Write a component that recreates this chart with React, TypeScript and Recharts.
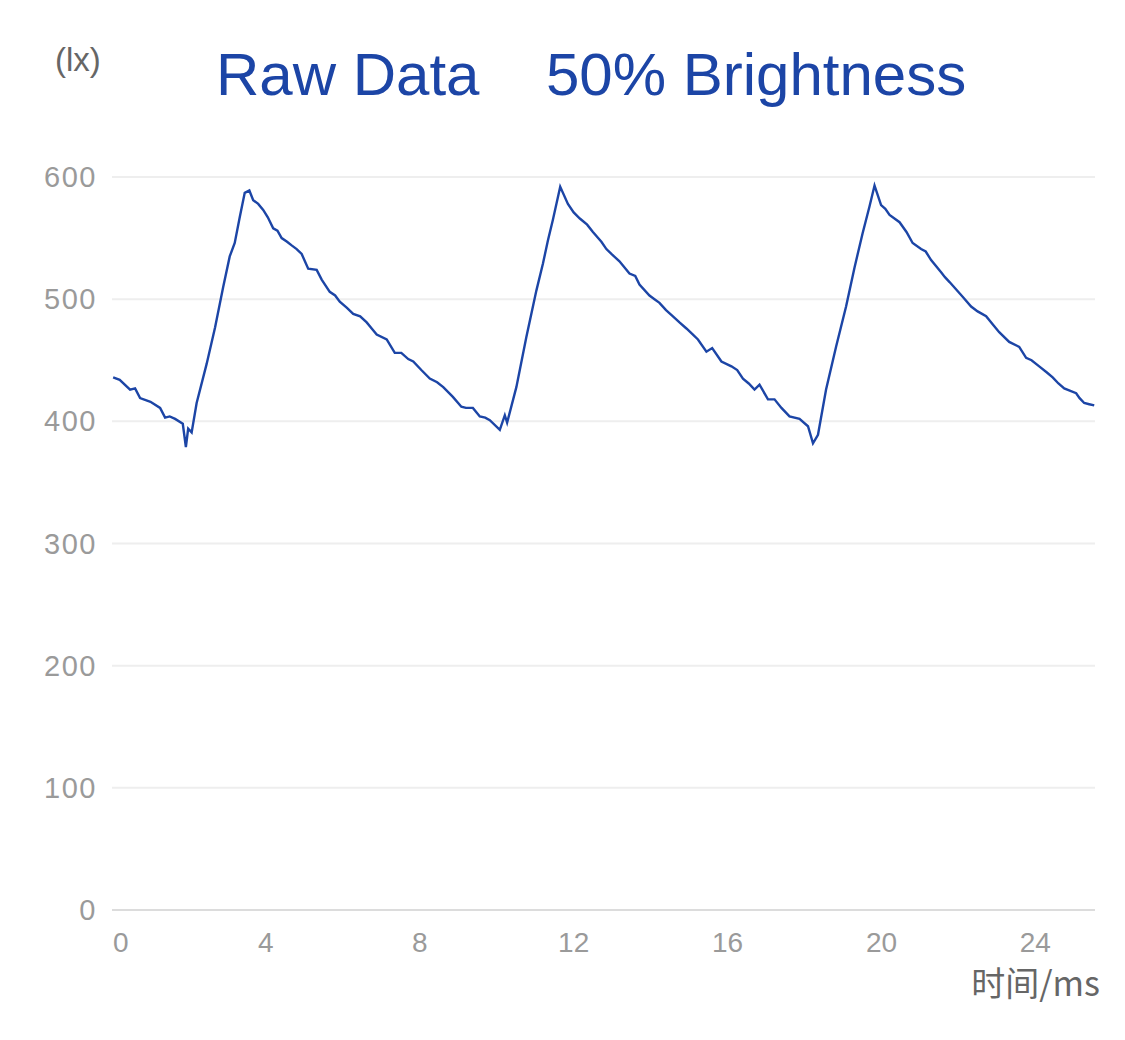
import { LineChart, Line, XAxis, YAxis, CartesianGrid } from "recharts";

// time (ms) and illuminance (lx)
const timeMs = [
  0.03, 0.2, 0.47, 0.6, 0.73, 1.0, 1.25, 1.38, 1.5, 1.64, 1.84, 1.92, 1.98,
  2.07, 2.2, 2.46, 2.68, 2.89, 3.06, 3.19, 3.32, 3.45, 3.57, 3.67, 3.8, 3.93,
  4.05, 4.19, 4.3, 4.41, 4.55, 4.67, 4.8, 4.93, 5.1, 5.32, 5.45, 5.66, 5.8,
  5.92, 6.1, 6.27, 6.45, 6.62, 6.75, 6.88, 7.14, 7.35, 7.52, 7.7, 7.83, 8.04,
  8.26, 8.45, 8.61, 8.86, 9.08, 9.2, 9.38, 9.56, 9.7, 9.82, 10.08, 10.21, 10.27,
  10.51, 10.77, 11.03, 11.2, 11.33, 11.46, 11.65, 11.85, 12.0, 12.16, 12.35,
  12.5, 12.72, 12.85, 12.98, 13.19, 13.45, 13.6, 13.71, 13.97, 14.1, 14.23,
  14.4, 14.58, 14.75, 14.93, 15.1, 15.23, 15.45, 15.6, 15.84, 16.1, 16.25, 16.4,
  16.55, 16.7, 16.83, 17.05, 17.22, 17.4, 17.61, 17.87, 18.09, 18.22, 18.35,
  18.56, 18.82, 19.08, 19.3, 19.51, 19.69, 19.82, 19.99, 20.1, 20.21, 20.47,
  20.65, 20.81, 21.03, 21.15, 21.29, 21.55, 21.65, 21.77, 22.11, 22.33, 22.5,
  22.72, 22.9, 23.06, 23.32, 23.58, 23.76, 23.9, 24.1, 24.3, 24.45, 24.6, 24.75,
  25.06, 25.15, 25.27, 25.4, 25.53,
];
const lux = [
  436, 434, 426, 427, 419, 416, 411, 403, 404, 402, 398, 379, 394, 391, 415,
  447, 477, 510, 535, 546, 567, 587, 589, 581, 578, 573, 567, 558, 556, 550,
  547, 544, 541, 537, 525, 524, 516, 506, 503, 498, 493, 488, 486, 481, 476,
  471, 467, 456, 456, 451, 449, 442, 435, 432, 428, 420, 412, 411, 411, 404,
  403, 401, 393, 405, 399, 428, 469, 507, 529, 548, 565, 592, 578, 571, 566,
  561, 555, 547, 541, 537, 531, 521, 519, 512, 503, 500, 497, 491, 486, 481,
  476, 471, 467, 457, 460, 449, 445, 442, 435, 431, 426, 430, 418, 418, 411,
  404, 402, 396, 382, 389, 426, 461, 494, 526, 554, 576, 593, 577, 574, 569,
  563, 555, 546, 541, 539, 532, 522, 518, 514, 502, 494, 490, 486, 479, 473,
  465, 461, 452, 450, 445, 440, 436, 431, 427, 423, 419, 415, 414, 413,
];
const yTicks = [0, 100, 200, 300, 400, 500, 600];
const xTicks = [0, 4, 8, 12, 16, 20, 24];

const data = timeMs.map((t, i) => ({ t, lx: lux[i] }));

const XTick = (props: any) => {
  const { x, y, payload } = props;
  const first = payload.value === 0;
  return (
    <text
      x={first ? x + 1 : x}
      y={y + 34}
      textAnchor={first ? "start" : "middle"}
      fill="#9a9a9a"
      fontSize={28}
      fontFamily="Liberation Sans, Arial, sans-serif"
    >
      {payload.value}
    </text>
  );
};

const YTick = (props: any) => {
  const { x, y, payload } = props;
  return (
    <text
      x={x - 7}
      y={y + 10}
      textAnchor="end"
      fill="#9a9a9a"
      fontSize={29}
      letterSpacing={1.5}
      fontFamily="Liberation Sans, Arial, sans-serif"
    >
      {payload.value}
    </text>
  );
};

const App = () => {
  return (
    <div
      style={{
        position: "absolute",
        left: 0,
        top: 0,
        width: 1125,
        height: 1040,
        background: "#fff",
        fontFamily: "Liberation Sans, Arial, sans-serif",
      }}
    >
      <div style={{ position: "absolute", left: 55, top: 41, fontSize: 33, color: "#666" }}>
        (lx)
      </div>
      <div style={{ position: "absolute", left: 216, top: 40, fontSize: 60, color: "#1c45a6" }}>
        Raw Data
      </div>
      <div style={{ position: "absolute", left: 546, top: 40, fontSize: 60, color: "#1c45a6" }}>
        50% Brightness
      </div>
      <div
        style={{
          position: "absolute",
          right: 25,
          top: 957,
          fontSize: 34,
          color: "#666",
          fontFamily: "Noto Sans CJK SC, sans-serif",
        }}
      >
        时间/ms
      </div>
      <LineChart
        width={1125}
        height={1040}
        data={data}
        margin={{ top: 177, right: 30, left: 0, bottom: 70 }}
      >
        <CartesianGrid vertical={false} stroke="#eeeeee" strokeWidth={2} />
        <XAxis
          dataKey="t"
          type="number"
          domain={[0, 25.55]}
          ticks={xTicks}
          height={60}
          tickLine={false}
          axisLine={{ stroke: "#dcdcdc", strokeWidth: 2 }}
          tick={<XTick />}
          interval={0}
        />
        <YAxis
          type="number"
          domain={[0, 600]}
          ticks={yTicks}
          width={112}
          tickLine={false}
          axisLine={false}
          tick={<YTick />}
          interval={0}
        />
        <Line
          type="linear"
          dataKey="lx"
          stroke="#1c45a6"
          strokeWidth={2.4}
          dot={false}
          isAnimationActive={false}
        />
      </LineChart>
    </div>
  );
};

export default App;
